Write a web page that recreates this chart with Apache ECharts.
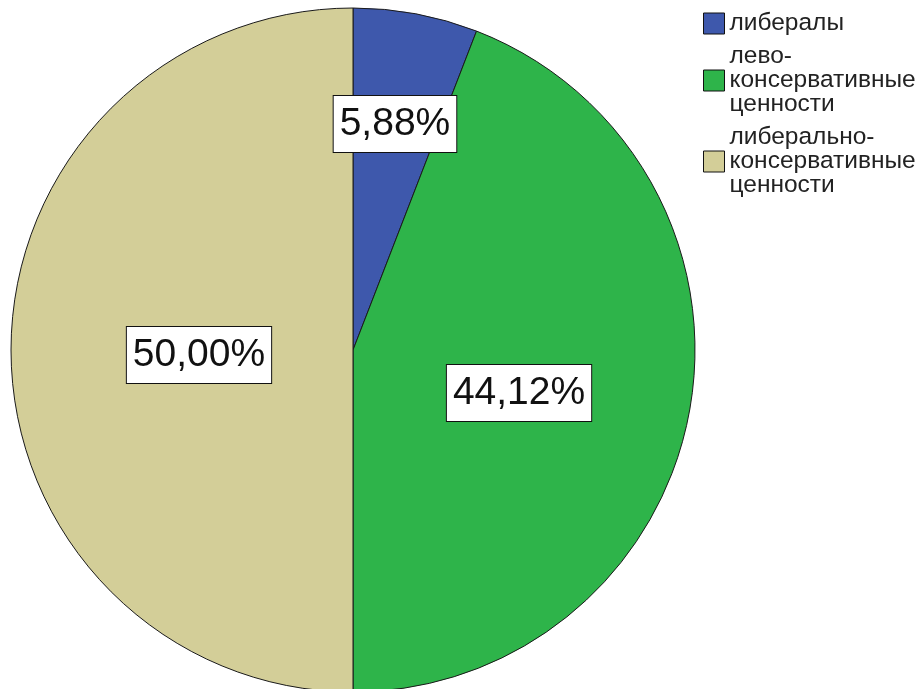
<!DOCTYPE html>
<html>
<head>
<meta charset="utf-8">
<script src="https://cdn.jsdelivr.net/npm/echarts@6/dist/echarts.min.js"></script>
<style>html,body{margin:0;padding:0;background:#fff}#c{width:920px;height:689px}</style>
</head>
<body>
<div id="c"></div>
<script>
const categories = ['либералы', 'лево-консервативные ценности', 'либерально-консервативные ценности'];
const counts = [2, 15, 17];
const colors = ['#3e58ac', '#2eb44a', '#d3ce98'];

const total = counts.reduce((a, b) => a + b, 0);
const fmtPct = v => (v / total * 100).toFixed(2).replace('.', ',') + '%';
const labelOffsets = [[10, -55], [-5, 11], [20, 5]];

const chart = echarts.init(document.getElementById('c'));
chart.setOption({
  animation: false,
  backgroundColor: '#fff',
  legend: {
    orient: 'vertical',
    left: 703,
    top: 11,
    padding: 0,
    itemWidth: 21,
    itemHeight: 21,
    itemGap: 8,
    icon: 'rect',
    selectedMode: false,
    data: categories,
    formatter: n => n.replace(/-/g, '-\n').replace(/ /g, '\n'),
    textStyle: { fontFamily: 'Liberation Sans', fontSize: 24.5, lineHeight: 24, color: '#222' },
    itemStyle: { borderColor: '#111', borderWidth: 1 }
  },
  series: [{
    type: 'pie',
    center: [353, 350],
    radius: 342,
    startAngle: 90,
    clockwise: true,
    silent: true,
    emphasis: { disabled: true },
    labelLine: { show: false },
    itemStyle: { borderColor: '#1a1a1a', borderWidth: 1 },
    data: categories.map((name, i) => ({
      name,
      value: counts[i],
      itemStyle: { color: colors[i] },
      label: {
        show: true,
        position: 'inside',
        offset: labelOffsets[i],
        formatter: p => fmtPct(p.value),
        fontFamily: 'Liberation Sans',
        fontSize: 39,
        lineHeight: 46,
        color: '#111',
        backgroundColor: '#fff',
        borderColor: '#111',
        borderWidth: 1,
        padding: [5, 6, 5, 6]
      }
    }))
  }]
});
</script>
</body>
</html>
